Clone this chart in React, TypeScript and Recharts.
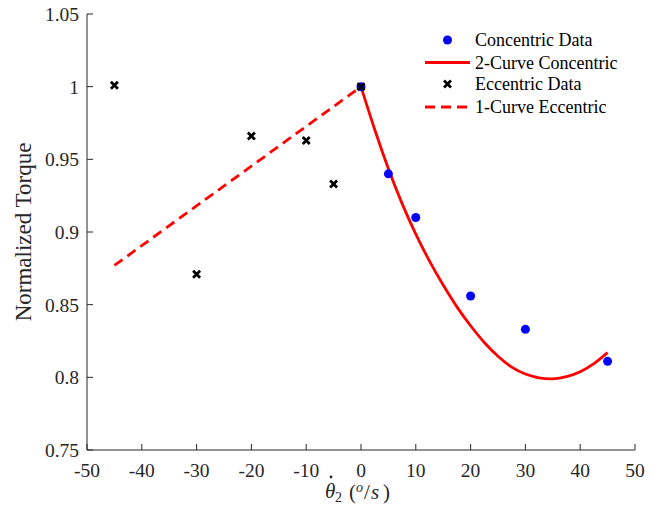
import { ComposedChart, Line, Scatter, XAxis, YAxis, Legend } from "recharts";

// measured points
const concentricSpeed = [0, 5, 10, 20, 30, 45];
const concentricTorque = [1.0, 0.94, 0.91, 0.856, 0.833, 0.811];

const eccentricSpeed = [-45, -30, -20, -10, -5, 0];
const eccentricTorque = [1.001, 0.871, 0.966, 0.963, 0.933, 1.0];

// fitted curves
const fitConcSpeed = [0, 2.5, 5, 7.5, 10, 12.5, 15, 17.5, 20, 22.5, 25, 27.5, 30, 32.5, 35, 37.5, 40, 42.5, 45];
const fitConcTorque = [
    1.0, 0.9705, 0.9435, 0.9195, 0.8985, 0.88, 0.8635, 0.8485, 0.8355, 0.824,
    0.8145, 0.807, 0.8023, 0.7997, 0.799, 0.8005, 0.8039, 0.8094, 0.817,
];

const fitEccSpeed = [-45, 0];
const fitEccTorque = [0.877, 1.0];

const xTicks = [-50, -40, -30, -20, -10, 0, 10, 20, 30, 40, 50];
const yTicks = [0.75, 0.8, 0.85, 0.9, 0.95, 1, 1.05];

const legendLabels = ["Concentric Data", "2-Curve Concentric", "Eccentric Data", "1-Curve Eccentric"];

const zip = (xs: number[], ys: number[]) => xs.map((x, i) => ({ x, y: ys[i] }));

const concData = zip(concentricSpeed, concentricTorque);
const eccData = zip(eccentricSpeed, eccentricTorque);
const fitConcData = zip(fitConcSpeed, fitConcTorque);
const fitEccData = zip(fitEccSpeed, fitEccTorque);

const AXIS = "#262626";
const FONT = "'Liberation Serif', 'Times New Roman', serif";
const DASH = "10 6";

const Cross = (props: any) => {
    const { cx, cy } = props;
    const s = 3.5;
    return (
        <path
            d={`M${cx - s},${cy - s}L${cx + s},${cy + s}M${cx - s},${cy + s}L${cx + s},${cy - s}`}
            stroke="#000"
            strokeWidth={2.8}
            fill="none"
        />
    );
};

const Dot = (props: any) => <circle cx={props.cx} cy={props.cy} r={4.5} fill="#0000ff" />;

const LegendBox = () => {
    const rows = [12, 34.5, 56, 79];
    return (
        <svg width={220} height={92} style={{ display: "block", fontFamily: FONT }}>
            <circle cx={27.5} cy={rows[0]} r={4.5} fill="#0000ff" />
            <line x1={5} x2={50} y1={rows[1]} y2={rows[1]} stroke="#ff0000" strokeWidth={2.8} />
            <Cross cx={27.5} cy={rows[2]} />
            <line x1={5} x2={50} y1={rows[3]} y2={rows[3]} stroke="#ff0000" strokeWidth={2.8} strokeDasharray={DASH} />
            {legendLabels.map((t, i) => (
                <text key={t} x={55} y={rows[i]} dy="0.35em" fontSize={18} fill="#000">
                    {t}
                </text>
            ))}
        </svg>
    );
};

// theta-dot_2 (o/s), laid out glyph by glyph like the LaTeX original
const XLabel = () => (
    <g fontFamily={FONT} fill={AXIS} fontSize={21}>
        <text x={325} y={498} fontStyle="italic">θ</text>
        <circle cx={331} cy={477} r={1.4} />
        <text x={335} y={502} fontSize={14}>2</text>
        <text x={349} y={499}>(</text>
        <text x={356} y={492} fontSize={14} fontStyle="italic">o</text>
        <text x={364} y={499}>/</text>
        <text x={371} y={499} fontStyle="italic">s</text>
        <text x={383} y={499}>)</text>
    </g>
);

const YLabel = () => (
    <text
        x={31}
        y={232}
        transform="rotate(-90 31 232)"
        textAnchor="middle"
        fontFamily={FONT}
        fontSize={23}
        fill={AXIS}
    >
        Normalized Torque
    </text>
);

export default function App() {
    return (
        <div style={{ position: "absolute", left: 0, top: 0, background: "#fff" }}>
            <ComposedChart width={658} height={515} margin={{ top: 14, right: 23, bottom: 0, left: 0 }}>
                <XAxis
                    type="number"
                    dataKey="x"
                    domain={[-50, 50]}
                    ticks={xTicks}
                    allowDataOverflow
                    height={65}
                    stroke={AXIS}
                    tickSize={-6}
                    tickMargin={19.5}
                    tick={{ fill: AXIS, fontSize: 19.5, fontFamily: FONT }}
                    label={<XLabel />}
                />
                <YAxis
                    type="number"
                    dataKey="y"
                    domain={[0.75, 1.05]}
                    ticks={yTicks}
                    allowDataOverflow
                    width={87}
                    stroke={AXIS}
                    tickSize={-6}
                    tickMargin={14}
                    tick={{ fill: AXIS, fontSize: 19.5, fontFamily: FONT }}
                    label={<YLabel />}
                />
                <Scatter data={concData} dataKey="y" shape={<Dot />} isAnimationActive={false} />
                <Line
                    data={fitConcData}
                    dataKey="y"
                    type="natural"
                    stroke="#ff0000"
                    strokeWidth={2.8}
                    dot={false}
                    activeDot={false}
                    isAnimationActive={false}
                />
                <Scatter data={eccData} dataKey="y" shape={<Cross />} isAnimationActive={false} />
                <Line
                    data={fitEccData}
                    dataKey="y"
                    type="linear"
                    stroke="#ff0000"
                    strokeWidth={2.8}
                    strokeDasharray={DASH}
                    dot={false}
                    activeDot={false}
                    isAnimationActive={false}
                />
                <Legend
                    layout="vertical"
                    align="center"
                    verticalAlign="middle"
                    content={<LegendBox />}
                    wrapperStyle={{ top: 28, left: 420, width: 220 }}
                />
            </ComposedChart>
        </div>
    );
}
